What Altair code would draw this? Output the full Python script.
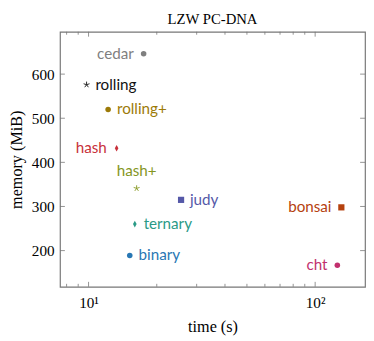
import altair as alt
import pandas as pd

names = ["cedar", "rolling", "rolling+", "hash", "hash+", "judy", "ternary", "binary", "bonsai", "cht"]
labels = ["cedar", "rolling", "rolling+", "hash", "hash+", "judy", "ternary", "binary", "bonsai", "cht"]
times = [17.5, 9.8, 12.2, 13.3, 16.3, 25.6, 16.0, 15.2, 130.5, 125.3]
mems = [646, 576, 520, 432, 341, 315, 260, 189, 298, 167]
colors = ["#7f7f7f", "#111111", "#9c7a08", "#c8303a", "#84961e", "#5558a8", "#2a9a86", "#2877b4", "#b5410e", "#c2306e"]
markers = ["circle", "star", "circle", "diamond", "star", "square", "diamond", "circle", "square", "circle"]
sides = ["left", "right", "right", "left", "above", "right", "right", "right", "left", "left"]

x_major = [10, 100]
x_minor = [8, 9, 20, 30, 40, 50, 60, 70, 80, 90]
y_ticks = [200, 300, 400, 500, 600]

W, H = 311, 260
FRAME = "#777777"
SERIF = "Liberation Serif"

df = pd.DataFrame({"name": names, "label": labels, "time": times, "mem": mems,
                   "marker": markers, "side": sides})

xs = alt.Scale(type="log", domain=[7.48, 166], nice=False)
ys = alt.Scale(domain=[118, 696], nice=False, zero=False)
cs = alt.Scale(domain=names, range=colors)

X = alt.X("time:Q", scale=xs,
          axis=alt.Axis(title="time (s)", values=x_major, tickSize=0, domain=False, grid=False,
                        labelExpr="datum.value == 10 ? '10¹' : '10²'",
                        labelFont=SERIF, labelFontSize=15.5, labelPadding=9,
                        titleFont=SERIF, titleFontSize=16.5, titleFontWeight="normal",
                        titlePadding=8, labelColor="#000", titleColor="#000"))
Y = alt.Y("mem:Q", scale=ys,
          axis=alt.Axis(title="memory (MiB)", values=y_ticks, tickSize=0, domain=False, grid=False,
                        labelFont=SERIF, labelFontSize=15.5, labelPadding=6,
                        titleFont=SERIF, titleFontSize=16.5, titleFontWeight="normal",
                        titlePadding=7, labelColor="#000", titleColor="#000"))
C = alt.Color("name:N", scale=cs, legend=None)

base = alt.Chart(df)

circles = base.transform_filter("datum.marker == 'circle'").mark_point(
    shape="circle", filled=True, size=32, opacity=1).encode(x=X, y=Y, color=C)
squares = base.transform_filter("datum.marker == 'square'").mark_point(
    shape="square", filled=True, size=40, opacity=1).encode(x=X, y=Y, color=C)
diamonds = base.transform_filter("datum.marker == 'diamond'").mark_point(
    shape="M0,-1L0.55,0L0,1L-0.55,0Z", filled=True, size=45, opacity=1).encode(x=X, y=Y, color=C)
stars = base.transform_filter("datum.marker == 'star'").mark_point(
    shape="M0,0L0,-1M0,0L0.951,-0.309M0,0L0.588,0.809M0,0L-0.588,0.809M0,0L-0.951,-0.309",
    filled=False, size=40, strokeWidth=0.9, opacity=1).encode(x=X, y=Y, color=C)

tfont = dict(font="Lato", fontSize=15.5)
lab_right = base.transform_filter("datum.side == 'right'").mark_text(
    align="left", baseline="middle", dx=9, **tfont).encode(x=X, y=Y, text="label:N", color=C)
lab_left = base.transform_filter("datum.side == 'left'").mark_text(
    align="right", baseline="middle", dx=-10, **tfont).encode(x=X, y=Y, text="label:N", color=C)
lab_above = base.transform_filter("datum.side == 'above'").mark_text(
    align="center", baseline="middle", dy=-18, **tfont).encode(x=X, y=Y, text="label:N", color=C)

xmaj = alt.Chart(pd.DataFrame({"v": x_major}))
xmin = alt.Chart(pd.DataFrame({"v": x_minor}))
yt = alt.Chart(pd.DataFrame({"v": y_ticks}))
xv = alt.X("v:Q", scale=xs)
yv = alt.Y("v:Q", scale=ys)
tick_style = dict(color=FRAME, strokeWidth=0.8)

ticks = [
    xmaj.mark_rule(**tick_style).encode(x=xv, y=alt.value(H), y2=alt.value(H - 5)),
    xmaj.mark_rule(**tick_style).encode(x=xv, y=alt.value(0), y2=alt.value(5)),
    xmin.mark_rule(**tick_style).encode(x=xv, y=alt.value(H), y2=alt.value(H - 3)),
    xmin.mark_rule(**tick_style).encode(x=xv, y=alt.value(0), y2=alt.value(3)),
    yt.mark_rule(**tick_style).encode(y=yv, x=alt.value(0), x2=alt.value(5)),
    yt.mark_rule(**tick_style).encode(y=yv, x=alt.value(W), x2=alt.value(W - 5)),
]

chart = alt.layer(*ticks, circles, squares, diamonds, stars, lab_right, lab_left, lab_above).properties(
    width=W, height=H,
    title=alt.TitleParams("LZW PC-DNA", font=SERIF, fontSize=15, fontWeight="normal",
                          anchor="middle", offset=5, color="#000"),
    padding={"left": 0, "top": 0, "right": 0, "bottom": 0},
).configure_view(stroke=FRAME, strokeWidth=1.2).resolve_scale(color="shared")

chart.save("out.html", embed_options={"renderer": "svg", "actions": False})
